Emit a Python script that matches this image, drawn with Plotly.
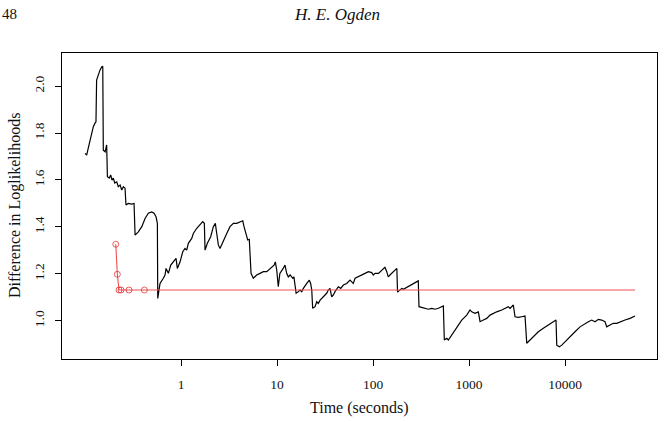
import plotly.graph_objects as go

# Black series: time (seconds) and difference in loglikelihoods
black_time = [0.100, 0.104, 0.108, 0.113, 0.117, 0.122, 0.127, 0.130, 0.132, 0.138,
              0.143, 0.149, 0.153, 0.155, 0.162, 0.168, 0.171, 0.179, 0.185, 0.191,
              0.197, 0.204, 0.214, 0.222, 0.232, 0.241, 0.251, 0.261, 0.267, 0.282,
              0.306, 0.324, 0.332, 0.359, 0.390, 0.422, 0.456, 0.495, 0.523, 0.549,
              0.567, 0.572, 0.604, 0.654, 0.681, 0.698, 0.738, 0.781, 0.832, 0.887,
              0.915, 0.977, 1.042, 1.101, 1.146, 1.191, 1.292, 1.343, 1.458, 1.577,
              1.683, 1.749, 1.778, 1.879, 2.037, 2.169, 2.276, 2.354, 2.447, 2.546,
              2.760, 2.992, 3.236, 3.508, 3.802, 4.119, 4.394, 4.531, 4.754, 4.95,
              5.14, 5.36, 5.66, 6.14, 6.65, 7.20, 7.81, 8.45, 9.31, 9.60,
              9.93, 10.3, 10.7, 11.6, 12.1, 12.6, 13.1, 13.7, 14.6, 15.0,
              15.8, 16.7, 17.4, 18.1, 18.8, 20.4, 21.7, 22.4, 23.0, 23.5,
              24.9, 25.9, 26.9, 28.1, 30.4, 32.9, 34.2, 35.6, 37.1, 38.6,
              40.2, 43.5, 46.1, 49.1, 53.2, 57.6, 60.0, 62.3, 65.0, 70.3,
              76.3, 82.6, 89.4, 96.9, 100.7, 105, 114, 123, 133, 139,
              144, 150, 163, 177, 180, 191, 199, 207, 224, 243,
              263, 285, 296, 301, 322, 348, 377, 409, 442, 479,
              519, 540, 553, 586, 609, 661, 745, 839, 946, 1024,
              1067, 1155, 1250, 1303, 1410, 1528, 1655, 1791, 1943, 2191,
              2371, 2566, 2672, 2893, 3013, 3264, 3540, 3831, 3991, 4317,
              4677, 5272, 5943, 6699, 7551, 8054, 8200, 8730, 9247, 10000,
              11270, 12710, 14330, 16150, 17490, 18970, 20540, 22230, 24100, 26100,
              27170, 29420, 31850, 34560, 37420, 42170, 47530, 53580]
black_value = [1.713, 1.706, 1.736, 1.770, 1.791, 1.827, 1.842, 1.848, 2.026, 2.055,
               2.068, 2.082, 2.085, 1.727, 1.720, 1.749, 1.614, 1.608, 1.621, 1.599,
               1.608, 1.587, 1.592, 1.571, 1.578, 1.557, 1.571, 1.565, 1.493, 1.500,
               1.497, 1.500, 1.365, 1.379, 1.401, 1.436, 1.458, 1.464, 1.458, 1.443,
               1.415, 1.095, 1.159, 1.181, 1.195, 1.223, 1.202, 1.237, 1.251, 1.266,
               1.223, 1.251, 1.294, 1.308, 1.301, 1.330, 1.351, 1.372, 1.394, 1.408,
               1.422, 1.415, 1.301, 1.330, 1.358, 1.401, 1.415, 1.372, 1.323, 1.308,
               1.344, 1.372, 1.401, 1.415, 1.415, 1.422, 1.426, 1.401, 1.365, 1.344,
               1.347, 1.202, 1.181, 1.195, 1.202, 1.209, 1.209, 1.223, 1.237, 1.251,
               1.216, 1.145, 1.202, 1.223, 1.237, 1.202, 1.187, 1.195, 1.181, 1.187,
               1.117, 1.124, 1.131, 1.124, 1.138, 1.159, 1.173, 1.159, 1.131, 1.053,
               1.060, 1.081, 1.074, 1.088, 1.102, 1.117, 1.131, 1.138, 1.102, 1.110,
               1.124, 1.145, 1.138, 1.152, 1.159, 1.173, 1.166, 1.159, 1.181, 1.187,
               1.195, 1.202, 1.209, 1.205, 1.195, 1.202, 1.202, 1.216, 1.228, 1.209,
               1.187, 1.195, 1.209, 1.223, 1.122, 1.131, 1.138, 1.134, 1.142, 1.152,
               1.159, 1.166, 1.170, 1.060, 1.057, 1.053, 1.049, 1.053, 1.049, 1.053,
               1.060, 1.063, 0.918, 0.925, 0.918, 0.939, 0.968, 1.003, 1.024, 1.046,
               1.038, 1.032, 1.038, 0.996, 1.003, 1.010, 1.024, 1.032, 1.038, 1.046,
               1.053, 1.060, 1.053, 1.067, 1.017, 1.014, 1.017, 1.020, 0.904, 0.918,
               0.932, 0.953, 0.968, 0.982, 0.996, 1.003, 0.896, 0.889, 0.896, 0.911,
               0.932, 0.953, 0.974, 0.989, 0.996, 1.003, 0.996, 1.006, 1.003, 0.996,
               0.974, 0.982, 0.989, 0.989, 0.996, 1.003, 1.010, 1.020]

# Red series
red_time = [0.209, 0.217, 0.226, 0.237, 0.287, 0.415, 53580]
red_value = [1.326, 1.198, 1.131, 1.131, 1.131, 1.131, 1.131]
red_marker_shown = [True, True, True, True, True, True, False]

x_tick_vals = [1, 10, 100, 1000, 10000]
x_tick_text = ["1", "10", "100", "1000", "10000"]
y_tick_vals = [1.0, 1.2, 1.4, 1.6, 1.8, 2.0]
y_tick_text = ["1.0", "1.2", "1.4", "1.6", "1.8", "2.0"]

FONT = "Liberation Serif"
TXT = "#111111"

fig = go.Figure()
fig.add_trace(go.Scatter(
    x=black_time, y=black_value, mode="lines",
    line=dict(color="black", width=1.2), showlegend=False))
fig.add_trace(go.Scatter(
    x=red_time, y=red_value, mode="lines+markers",
    line=dict(color="#f05050", width=1.1),
    marker=dict(symbol="circle-open", color="#e52020",
                size=[6 if s else 0 for s in red_marker_shown],
                line=dict(width=1)),
    showlegend=False))

L, R, T, B = 62, 7, 53, 63
W, H = 664, 422
pw, ph = W - L - R, H - T - B

def px(x):
    return (x - L) / pw

def py(y):
    return (H - B - y) / ph

fig.update_layout(
    width=W, height=H,
    margin=dict(l=L, r=R, t=T, b=B, pad=0),
    paper_bgcolor="white", plot_bgcolor="white",
    font=dict(family=FONT, size=13, color=TXT),
    xaxis=dict(type="log", range=[-1.240, 4.958],
               tickvals=x_tick_vals, ticktext=x_tick_text,
               ticks="outside", ticklen=6, tickcolor="black", tickwidth=1,
               showline=True, linecolor="black", linewidth=1, mirror=True,
               showgrid=False, zeroline=False, ticklabelstandoff=7,
               tickfont=dict(family=FONT, size=13.5, color=TXT)),
    yaxis=dict(range=[0.837, 2.141],
               tickvals=y_tick_vals, ticktext=y_tick_text, tickangle=-90,
               ticks="outside", ticklen=6, tickcolor="black", tickwidth=1,
               showline=True, linecolor="black", linewidth=1, mirror=True,
               showgrid=False, zeroline=False, ticklabelstandoff=6,
               tickfont=dict(family=FONT, size=13.5, color=TXT)),
    annotations=[
        dict(text="Time (seconds)", x=px(359), y=py(408), xref="paper", yref="paper",
             showarrow=False, xanchor="center", yanchor="middle",
             font=dict(family=FONT, size=16, color=TXT)),
        dict(text="Difference in Loglikelihoods", x=px(15), y=py(206), xref="paper", yref="paper",
             showarrow=False, xanchor="center", yanchor="middle", textangle=-90,
             font=dict(family=FONT, size=16, color=TXT)),
        dict(text="48", x=px(0), y=py(14), xref="paper", yref="paper",
             showarrow=False, xanchor="left", yanchor="middle",
             font=dict(family=FONT, size=15, color=TXT)),
        dict(text="<i>H. E. Ogden</i>", x=px(337), y=py(14), xref="paper", yref="paper",
             showarrow=False, xanchor="center", yanchor="middle",
             font=dict(family=FONT, size=17, color=TXT)),
    ],
)

fig.write_html("out.html")
